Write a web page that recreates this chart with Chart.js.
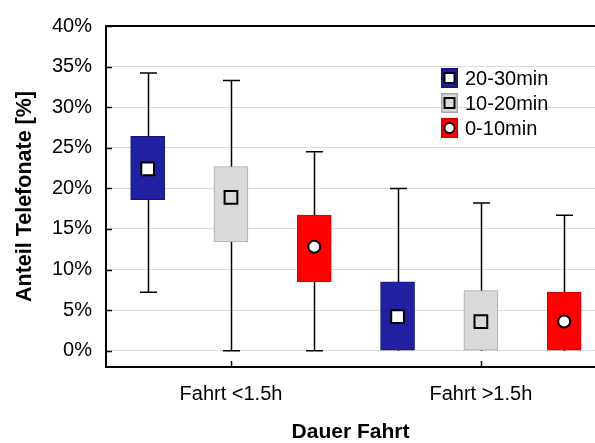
<!DOCTYPE html>
<html>
<head>
<meta charset="utf-8">
<script src="https://cdn.jsdelivr.net/npm/chart.js@4"></script>
<style>
  html, body { margin: 0; padding: 0; background: #fff; }
  #wrap { width: 595px; height: 443px; position: relative; }
</style>
</head>
<body>
<div id="wrap"><canvas id="boxChart"></canvas></div>
<script>
// Kategorien und Klassen
const categories = ['Fahrt <1.5h', 'Fahrt >1.5h'];
const seriesNames = ['20-30min', '10-20min', '0-10min'];
const yTickValues = [0, 5, 10, 15, 20, 25, 30, 35, 40];

// Werte in % je Klasse: [Fahrt <1.5h, Fahrt >1.5h]
const whiskerLow  = [[7.2, 0.0], [0.0, 0.0], [0.0, 0.0]];
const boxLow      = [[18.6, 0.0], [13.4, 0.0], [8.5, 0.0]];
const boxHigh     = [[26.4, 8.5], [22.7, 7.4], [16.7, 7.2]];
const whiskerHigh = [[34.2, 20.0], [33.3, 18.2], [24.5, 16.7]];
const meanValues  = [[22.4, 4.2], [18.9, 3.6], [12.8, 3.6]];

// Farben
const fillColors   = ['#2020a0', '#d9d9d9', '#ff0000'];
const borderColors = ['#14147e', '#a8a8a8', '#d40000'];
const markerFill   = ['#ffffff', '#d9d9d9', '#ffffff'];
const markerStyle  = ['rect', 'rect', 'circle'];
const markerRadius = [9, 9, 6];

// Position auf der x-Achse: 3 Boxen pro Kategorie
const xPos = (g, s) => g * 3 + s + 1;

const datasets = [];
seriesNames.forEach((name, s) => {
    datasets.push({
        type: 'bar',
        label: name,
        data: categories.map((c, g) => ({ x: xPos(g, s), y: [boxLow[s][g], boxHigh[s][g]] })),
        backgroundColor: fillColors[s],
        borderColor: borderColors[s],
        borderWidth: 1,
        borderSkipped: false,
        barThickness: 34,
        grouped: false,
        order: 2,
    });
});
seriesNames.forEach((name, s) => {
    datasets.push({
        type: 'scatter',
        label: name + ' Mittelwert',
        data: categories.map((c, g) => ({ x: xPos(g, s), y: meanValues[s][g] })),
        pointStyle: markerStyle[s],
        pointRadius: markerRadius[s],
        backgroundColor: markerFill[s],
        borderColor: '#000',
        borderWidth: 2,
        order: 1,
    });
});

// Whisker (vor den Boxen), Rahmen, Ticks nach innen und Legende
const boxPlotExtras = {
    id: 'boxPlotExtras',
    beforeDatasetsDraw(chart) {
        const { ctx, scales: { x, y } } = chart;
        ctx.save();
        ctx.strokeStyle = '#000';
        ctx.lineWidth = 1.5;
        seriesNames.forEach((n, s) => {
            categories.forEach((c, g) => {
                const px = Math.round(x.getPixelForValue(xPos(g, s))) + 0.5;
                const yLo = y.getPixelForValue(whiskerLow[s][g]);
                const yHi = y.getPixelForValue(whiskerHigh[s][g]);
                ctx.beginPath();
                ctx.moveTo(px, yLo);
                ctx.lineTo(px, yHi);
                // Querstrich nur, wenn der Whisker über die Box hinausgeht
                if (whiskerLow[s][g] < boxLow[s][g]) {
                    ctx.moveTo(px - 8.5, yLo);
                    ctx.lineTo(px + 8.5, yLo);
                }
                if (whiskerHigh[s][g] > boxHigh[s][g]) {
                    ctx.moveTo(px - 8.5, yHi);
                    ctx.lineTo(px + 8.5, yHi);
                }
                ctx.stroke();
            });
        });
        ctx.restore();
    },
    afterDraw(chart) {
        const { ctx, chartArea: area, scales: { x, y } } = chart;
        ctx.save();
        ctx.strokeStyle = '#000';
        ctx.lineWidth = 2;
        // oberer Rahmen
        ctx.beginPath();
        ctx.moveTo(area.left, area.top);
        ctx.lineTo(chart.width, area.top);
        ctx.stroke();
        // Ticks nach innen
        ctx.lineWidth = 1.5;
        ctx.beginPath();
        yTickValues.forEach(v => {
            const py = Math.round(y.getPixelForValue(v)) + 0.5;
            ctx.moveTo(area.left, py);
            ctx.lineTo(area.left + 6, py);
        });
        categories.forEach((c, g) => {
            const px = Math.round(x.getPixelForValue(xPos(g, 1))) + 0.5;
            ctx.moveTo(px, area.bottom);
            ctx.lineTo(px, area.bottom - 6);
        });
        ctx.stroke();

        // Legende
        const lx = 441, lw = 17, lh = 20, textX = 465;
        const rows = [68, 93, 118];
        ctx.font = '20px "Liberation Sans", Arial, sans-serif';
        ctx.textBaseline = 'middle';
        seriesNames.forEach((name, s) => {
            const top = rows[s];
            ctx.fillStyle = fillColors[s];
            ctx.fillRect(lx, top, lw, lh);
            ctx.strokeStyle = borderColors[s];
            ctx.lineWidth = 1.5;
            ctx.strokeRect(lx + 0.75, top + 0.75, lw - 1.5, lh - 1.5);
            const cx = lx + lw / 2, cy = top + lh / 2;
            ctx.fillStyle = markerFill[s];
            ctx.strokeStyle = '#000';
            ctx.lineWidth = 2;
            ctx.beginPath();
            if (markerStyle[s] === 'circle') {
                ctx.arc(cx, cy, 5, 0, Math.PI * 2);
            } else {
                ctx.rect(cx - 5, cy - 5, 10, 10);
            }
            ctx.fill();
            ctx.stroke();
            ctx.fillStyle = '#000';
            ctx.fillText(name, textX, cy + 1);
        });
        ctx.restore();
    }
};

const ctx = document.getElementById('boxChart').getContext('2d');
const boxChart = new Chart(ctx, {
    type: 'bar',
    data: { datasets: datasets },
    options: {
        responsive: true,
        maintainAspectRatio: false,
        animation: false,
        devicePixelRatio: 1,
        layout: { autoPadding: false, padding: { top: 18, right: 0, bottom: 0, left: 0 } },
        plugins: {
            legend: { display: false },
            tooltip: { enabled: false },
        },
        scales: {
            x: {
                type: 'linear',
                offset: false,
                min: 0.5,
                max: 6.37,
                afterBuildTicks: scale => {
                    scale.ticks = categories.map((c, g) => ({ value: xPos(g, 1) }));
                },
                afterFit: scale => {
                    scale.height = 76;
                    scale.paddingRight = 0;
                },
                ticks: {
                    callback: (v) => categories[(v - 2) / 3],
                    color: '#000',
                    font: { family: '"Liberation Sans", Arial, sans-serif', size: 20 },
                    padding: 15,
                    maxRotation: 0,
                },
                grid: { display: false, drawTicks: false },
                border: { display: true, color: '#000', width: 2 },
                title: {
                    display: true,
                    text: 'Dauer Fahrt',
                    color: '#000',
                    font: { family: '"Liberation Sans", Arial, sans-serif', size: 21, weight: 'bold', lineHeight: 1 },
                    padding: 0,
                },
            },
            y: {
                min: -2,
                max: 40,
                afterBuildTicks: scale => {
                    scale.ticks = yTickValues.map(v => ({ value: v }));
                },
                afterFit: scale => { scale.width = 106; },
                ticks: {
                    callback: v => v + '%',
                    color: '#000',
                    font: { family: '"Liberation Sans", Arial, sans-serif', size: 20 },
                    padding: 14,
                },
                grid: { color: '#dcdcdc', lineWidth: 1, drawTicks: false },
                border: { display: true, color: '#000', width: 2 },
                title: {
                    display: true,
                    text: 'Anteil Telefonate [%]',
                    color: '#000',
                    font: { family: '"Liberation Sans", Arial, sans-serif', size: 21.5, weight: 'bold', lineHeight: 1 },
                    padding: { top: 14, bottom: 0 },
                },
            },
        },
    },
    plugins: [boxPlotExtras],
});
</script>
</body>
</html>
